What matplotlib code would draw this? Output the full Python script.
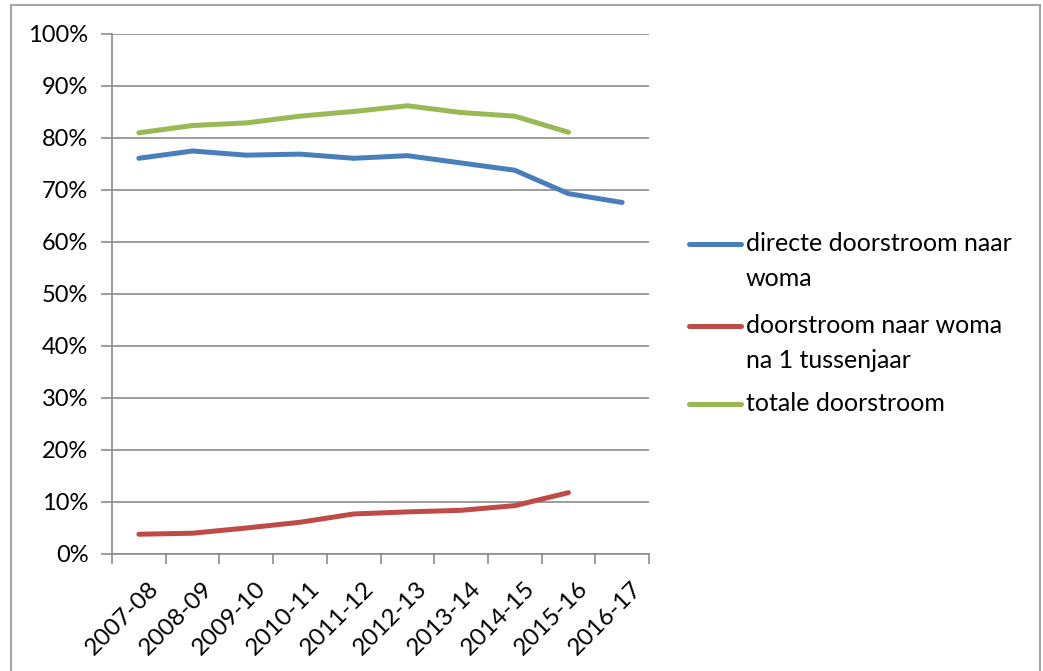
import matplotlib
matplotlib.use("Agg")
import matplotlib.pyplot as plt
import matplotlib.transforms as mtransforms
from matplotlib.lines import Line2D
from matplotlib.patches import Rectangle
from matplotlib.ticker import FixedLocator, NullFormatter

plt.rcParams['font.family'] = ['Lato', 'DejaVu Sans']

# data
years = ['2007-08', '2008-09', '2009-10', '2010-11', '2011-12',
         '2012-13', '2013-14', '2014-15', '2015-16', '2016-17']
direct = [76.1, 77.5, 76.7, 76.9, 76.1, 76.6, 75.2, 73.8, 69.3, 67.6]
tussenjaar = [3.8, 4.0, 5.0, 6.1, 7.7, 8.1, 8.4, 9.3, 11.8]
totaal = [81.0, 82.4, 82.9, 84.2, 85.1, 86.2, 84.9, 84.2, 81.1]

labels = ['directe doorstroom naar\nwoma',
          'doorstroom naar woma\nna 1 tussenjaar',
          'totale doorstroom']
colors = ['#4A7EBB', '#BE4B48', '#98B954']

W, H = 1043, 671
fig = plt.figure(figsize=(W / 100, H / 100), dpi=100)

# outer chart border (cut off at the bottom)
fig.patches.append(Rectangle((10.5 / W, -0.05), 1029 / W, 1.05 - 4.5 / H,
                             transform=fig.transFigure, fill=False,
                             edgecolor='#A6A6A6', lw=1.5))

ax = fig.add_axes([112 / W, 1 - 554 / H, 537 / W, 520 / H])

x = list(range(len(years)))
series = [direct, tussenjaar, totaal]
for vals, c in zip(series, colors):
    ax.plot(x[:len(vals)], vals, color=c, lw=3.6, solid_capstyle='round',
            solid_joinstyle='round', zorder=3)

ax.set_xlim(-0.5, len(years) - 0.5)
ax.set_ylim(0, 100)
ax.set_yticks(range(0, 101, 10))
ax.set_yticklabels(['%d%%' % v for v in range(0, 101, 10)])
ax.yaxis.grid(True, color='#8C8C8C', lw=1.2)
ax.set_axisbelow(True)

# category ticks sit on the boundaries, labels on the centres
ax.xaxis.set_major_locator(FixedLocator([i - 0.5 for i in range(len(years) + 1)]))
ax.xaxis.set_major_formatter(NullFormatter())
ax.xaxis.set_minor_locator(FixedLocator(x))
ax.set_xticklabels(years, minor=True)
ax.tick_params(axis='x', which='minor', length=0, pad=17)
ax.tick_params(axis='x', which='major', length=7, width=1.2, color='#8C8C8C')
ax.tick_params(axis='y', length=8, width=1.2, color='#8C8C8C', pad=9)
ax.tick_params(axis='y', labelsize=17, labelcolor='black')
ax.tick_params(axis='x', which='minor', labelsize=17.5, labelcolor='black')
shift = mtransforms.ScaledTranslation(9 / 100, 0, fig.dpi_scale_trans)
for lab in ax.get_xticklabels(minor=True):
    lab.set_rotation(45)
    lab.set_ha('right')
    lab.set_va('top')
    lab.set_rotation_mode('anchor')
    lab.set_transform(lab.get_transform() + shift)

for s in ['top', 'right']:
    ax.spines[s].set_visible(False)
for s in ['left', 'bottom']:
    ax.spines[s].set_color('#8C8C8C')
    ax.spines[s].set_linewidth(1.2)

# legend drawn to the right of the plot
ys = [244, 326, 404]
for lab, c, yp in zip(labels, colors, ys):
    fig.add_artist(Line2D([689 / W, 741 / W], [1 - yp / H, 1 - yp / H],
                          transform=fig.transFigure, color=c, lw=3.6,
                          solid_capstyle='round'))
    fig.text(746 / W, 1 - (yp - 12) / H, lab, fontsize=18, va='top',
             ha='left', linespacing=1.62)

fig.savefig('out.png', dpi=100)
